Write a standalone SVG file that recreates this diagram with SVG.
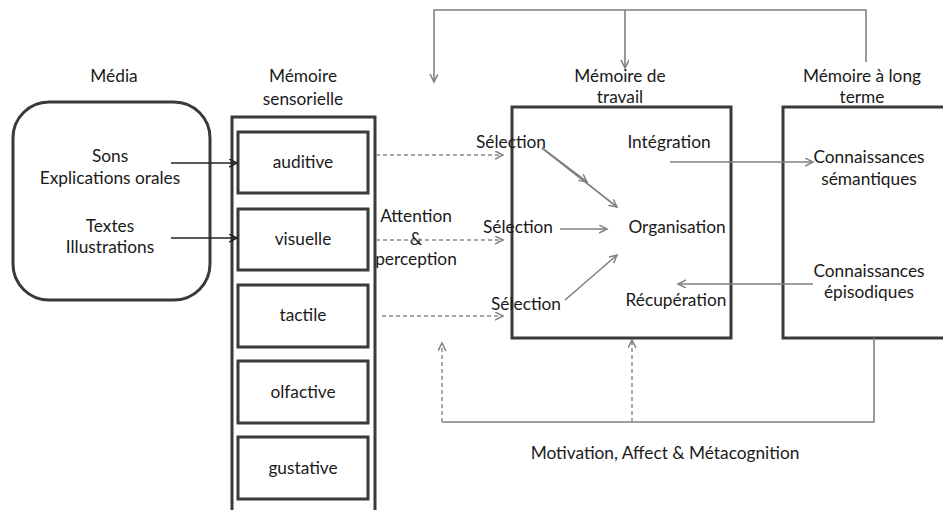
<svg xmlns="http://www.w3.org/2000/svg" width="943" height="510" viewBox="0 0 943 510">
<style>
text{font-family:"Lato","Open Sans","Liberation Sans",sans-serif;font-size:17.3px;fill:#1a1a1a;text-anchor:middle}
.box{fill:none;stroke:#3a3a3a;stroke-width:3}
.ibox{fill:#fff;stroke:#3a3a3a;stroke-width:3}
.sol{fill:none;stroke:#222;stroke-width:1.6}
.gr{fill:none;stroke:#808080;stroke-width:1.6}
.dash{fill:none;stroke:#888;stroke-width:1.4;stroke-dasharray:4 3}
</style>
<defs>
<marker id="ab" markerWidth="10" markerHeight="10" refX="8" refY="4" orient="auto" markerUnits="userSpaceOnUse"><path d="M0,0 L8,4 L0,8" fill="none" stroke="#222" stroke-width="1.5"/></marker>
<marker id="ag" markerWidth="10" markerHeight="10" refX="8" refY="4" orient="auto" markerUnits="userSpaceOnUse"><path d="M0,0 L8,4 L0,8" fill="none" stroke="#808080" stroke-width="1.5"/></marker>
</defs>
<g id="labels">
<text x="114" y="82">Média</text>
<text x="303" y="82">Mémoire</text>
<text x="303" y="105">sensorielle</text>
<text x="620" y="82">Mémoire de</text>
<text x="620" y="103">travail</text>
<text x="862" y="82">Mémoire à long</text>
<text x="862" y="103">terme</text>
<text x="416" y="222">Attention</text>
<text x="416" y="245">&amp;</text>
<text x="416" y="265">perception</text>
<text x="665" y="459">Motivation, Affect &amp; Métacognition</text>
</g>
<g id="media">
<rect class="box" x="13" y="102" width="197" height="198" rx="36"/>
<text x="110" y="162">Sons</text>
<text x="110" y="184">Explications orales</text>
<text x="110" y="232">Textes</text>
<text x="110" y="253">Illustrations</text>
</g>
<g id="memoire-sensorielle">
<path class="box" d="M232,515 V117 H375 V515"/>
<g id="auditive"><rect class="ibox" x="238" y="132" width="130" height="61"/><text x="303" y="168">auditive</text></g>
<g id="visuelle"><rect class="ibox" x="238" y="209" width="130" height="61"/><text x="303" y="245">visuelle</text></g>
<g id="tactile"><rect class="ibox" x="238" y="285" width="130" height="62"/><text x="303" y="321">tactile</text></g>
<g id="olfactive"><rect class="ibox" x="238" y="361" width="130" height="62"/><text x="303" y="398">olfactive</text></g>
<g id="gustative"><rect class="ibox" x="238" y="437" width="130" height="62"/><text x="303" y="474">gustative</text></g>
</g>
<g id="memoire-travail">
<rect class="box" x="512" y="107" width="219" height="231"/>
<text x="511" y="148">Sélection</text>
<text x="518" y="233">Sélection</text>
<text x="526" y="310">Sélection</text>
<text x="669" y="148">Intégration</text>
<text x="677" y="233">Organisation</text>
<text x="676" y="306">Récupération</text>
</g>
<g id="memoire-long-terme">
<path class="box" d="M950,107 H783 V338 H950"/>
<text x="869" y="163">Connaissances</text>
<text x="869" y="185">sémantiques</text>
<text x="869" y="277">Connaissances</text>
<text x="869" y="298">épisodiques</text>
</g>
<g id="connectors">
<line class="sol" x1="171" y1="163" x2="237" y2="163" marker-end="url(#ab)"/>
<line class="sol" x1="171" y1="238" x2="237" y2="238" marker-end="url(#ab)"/>
<line class="dash" x1="376" y1="155" x2="503" y2="155" marker-end="url(#ag)"/>
<line class="dash" x1="376" y1="240" x2="503" y2="240" marker-end="url(#ag)"/>
<line class="dash" x1="382" y1="316" x2="503" y2="316" marker-end="url(#ag)"/>
<line class="gr" x1="542" y1="148" x2="587" y2="182" marker-end="url(#ag)"/>
<line class="gr" x1="542" y1="148" x2="617" y2="207" marker-end="url(#ag)"/>
<line class="gr" x1="560" y1="229" x2="607" y2="229" marker-end="url(#ag)"/>
<line class="gr" x1="565" y1="300" x2="617" y2="255" marker-end="url(#ag)"/>
<line class="gr" x1="670" y1="162" x2="813" y2="162" marker-end="url(#ag)"/>
<line class="gr" x1="813" y1="284" x2="678" y2="284" marker-end="url(#ag)"/>
<path class="gr" d="M866,62 V10 H434 V82" marker-end="url(#ag)"/>
<line class="gr" x1="625" y1="10" x2="625" y2="68" marker-end="url(#ag)"/>
<path class="gr" d="M874,338 V422 H442"/>
<line class="dash" x1="442" y1="422" x2="442" y2="343" marker-end="url(#ag)"/>
<line class="dash" x1="632" y1="422" x2="632" y2="340" marker-end="url(#ag)"/>
</g>
</svg>
